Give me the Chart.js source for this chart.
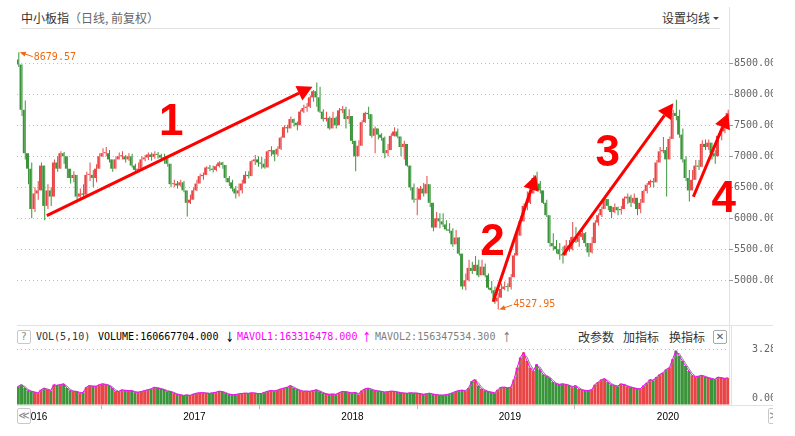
<!DOCTYPE html>
<html>
<head>
<meta charset="utf-8">
<script src="https://cdn.jsdelivr.net/npm/chart.js@4.4.1/dist/chart.umd.min.js"></script>
<style>
  html, body { margin: 0; padding: 0; background: #fff; }
  #wrap { position: relative; width: 773px; height: 436px; overflow: hidden; font-family: "Noto Sans CJK SC", sans-serif; }
  .abs { position: absolute; white-space: nowrap; }
  .mono { font-family: "DejaVu Sans Mono", monospace; font-size: 10px; line-height: 14px; top: 330px; }
  .arr { font-family: "DejaVu Sans", sans-serif; font-size: 14px; line-height: 14px; top: 330px; transform: scaleX(0.7); }
  .cn { font-size: 12px; line-height: 16px; color: #333; }
  .line { position: absolute; background: #e2e2e2; }
  .btn { position: absolute; box-sizing: border-box; border: 1px solid #c8c8c8; border-radius: 2px; background: #fff;
         text-align: center; color: #888; font-family: "DejaVu Sans", sans-serif; }
</style>
</head>
<body>
<div id="wrap">
  <div class="abs cn" style="left:21px; top:10px;">中小板指<span style="color:#666;">（日线, 前复权）</span></div>
  <div class="abs cn" style="left:662px; top:10px;">设置均线</div>
  <div class="abs" style="left:713px; top:17px; width:0; height:0; border-left:3px solid transparent; border-right:3px solid transparent; border-top:3px solid #444;"></div>
  <div class="line" style="left:21px; top:28px; width:699px; height:1px;"></div>
  <div class="line" style="left:729px; top:7px; width:1px; height:398px;"></div>
  <div class="line" style="left:731px; top:325px; width:1px; height:80px;"></div>
  <div class="line" style="left:17px; top:325px; width:756px; height:1px;"></div>
  <div class="line" style="left:17px; top:405px; width:756px; height:1px;"></div>

  <div class="btn" style="left:17px; top:330px; width:14px; height:14px; font-size:10px; line-height:12px;">?</div>
  <span class="abs mono" style="left:36px; color:#333;">VOL(5,10)</span>
  <span class="abs mono" style="left:98px; color:#000;">VOLUME:160667704.000</span>
  <span class="abs arr" style="left:224px; color:#000;">↓</span>
  <span class="abs mono" style="left:237px; color:#ff00ff;">MAVOL1:163316478.000</span>
  <span class="abs arr" style="left:361px; color:#ff00ff;">↑</span>
  <span class="abs mono" style="left:375px; color:#808080;">MAVOL2:156347534.300</span>
  <span class="abs arr" style="left:501px; color:#808080;">↑</span>
  <span class="abs cn" style="left:578px; top:329px;">改参数</span>
  <span class="abs cn" style="left:623px; top:329px;">加指标</span>
  <span class="abs cn" style="left:669px; top:329px;">换指标</span>
  <div class="btn" style="left:713px; top:330px; width:14px; height:14px; font-size:10px; line-height:12px; color:#555; border-color:#aaa;">✕</div>

  <canvas id="price" class="abs" style="left:0; top:30px;" width="773" height="292"></canvas>
  <canvas id="vol" class="abs" style="left:0; top:325px;" width="773" height="111"></canvas>

  <div class="btn" style="left:17px; top:408px; width:14px; height:16px; font-size:11px; line-height:14px;">≪</div>
  <div class="btn" style="left:768px; top:408px; width:14px; height:16px; font-size:11px; line-height:14px;">≫</div>
</div>

<script>
// each bar below stands for 5 trading days; x runs in trading days
const DAYS_PER_BAR = 5;
const DAY_SPAN = 1099;

const years = ['2016', '2017', '2018', '2019', '2020'];
const yearStartDay = [8, 252, 496, 739, 983];
const priceTicks = [5000, 5500, 6000, 6500, 7000, 7500, 8000, 8500];
const volTicks = [0, 3.28];

const firstOpen = 8560;
const close = [
  8480, 7750, 7050, 6800, 6150, 6400, 6450, 6850, 6200, 6450,
  6350, 6900, 6800, 7050, 7000, 6800, 6650, 6700, 6350, 6400,
  6380, 6700, 6700, 6650, 6800, 7000, 7050, 7050, 6950, 6800,
  6950, 7000, 7000, 6950, 7000, 6850, 6780, 6800, 6950, 6980,
  7030, 6990, 7040, 7020, 6980, 6960, 6880, 6550, 6560, 6530,
  6580, 6450, 6250, 6300, 6450, 6560, 6680, 6700, 6820, 6800,
  6780, 6840, 6900, 6860, 6650, 6580, 6480, 6400, 6450, 6560,
  6700, 6680, 6920, 6950, 6900, 6880, 6820, 7080, 7100, 7030,
  7120, 7300, 7470, 7450, 7600, 7540, 7500, 7720, 7780, 7800,
  7950, 8050, 7950, 7720, 7600, 7620, 7450, 7620, 7500, 7740,
  7760, 7600, 7650, 7250, 7000, 7170, 7550, 7700, 7680, 7330,
  7450, 7350, 7300, 7050, 7100, 7330, 7400, 7320, 7150, 7200,
  6850, 6500, 6300, 6300, 6480, 6400, 6550, 6250, 5850, 6000,
  5950, 5900, 5820, 5800, 5580, 5690, 5430, 4900, 5000, 5200,
  5150, 5250, 5080, 5220, 5080, 4880, 4840, 4660, 4720, 4860,
  4900, 4890, 5050, 5400, 5720, 5950, 6200, 6250, 6400, 6650,
  6560, 6450, 6250, 6050, 5600, 5550, 5500, 5420, 5400, 5560,
  5500, 5700, 5620, 5700, 5760, 5600, 5450, 5600, 5930, 6050,
  6150, 6310, 6200, 6100, 6180, 6130, 6150, 6320, 6350, 6250,
  6330, 6150, 6250, 6440, 6540, 6600, 6580, 6900, 7080, 7100,
  6950, 7280, 7700, 7650, 7350, 6950, 6650, 6450, 6620, 6850,
  6830, 7200, 7150, 7220, 7050, 7000, 7330, 7400, 7530, 7700
];
const high = [
  8679.57, 8420, 7900, 7050, 6900, 6500, 6600, 6900, 6800, 6550,
  6500, 6950, 7000, 7080, 7070, 7000, 6800, 6760, 6650, 6480,
  6550, 6750, 6900, 6780, 6870, 7050, 7130, 7150, 7100, 6950,
  7000, 7060, 7080, 7020, 7050, 7040, 6880, 6900, 7000, 7020,
  7060, 7060, 7080, 7070, 7040, 7040, 7000, 6880, 6620, 6600,
  6620, 6600, 6450, 6380, 6500, 6620, 6720, 6740, 6840, 6860,
  6850, 6870, 6920, 6910, 6860, 6680, 6620, 6520, 6560, 6620,
  6760, 6760, 6940, 7020, 7000, 6990, 6960, 7100, 7160, 7100,
  7160, 7320, 7500, 7510, 7640, 7610, 7560, 7750, 7830, 7860,
  7980, 8070, 8190, 8120, 7760, 7720, 7640, 7720, 7640, 7780,
  7810, 7800, 7760, 7520, 7250, 7260, 7580, 7720, 7800, 7580,
  7480, 7430, 7370, 7320, 7200, 7370, 7470, 7450, 7300, 7250,
  7130, 6780, 6560, 6500, 6520, 6570, 6680, 6460, 6250, 6100,
  6080, 6080, 5970, 5920, 5840, 5810, 5700, 5300, 5110, 5330,
  5300, 5390, 5330, 5330, 5270, 5110, 4990, 4900, 4800, 4950,
  4980, 4950, 5100, 5440, 5780, 6030, 6240, 6430, 6510, 6700,
  6750, 6600, 6450, 6300, 5850, 5760, 5650, 5600, 5540, 5650,
  5650, 5940, 5860, 5800, 5860, 5780, 5600, 5700, 5970, 6080,
  6190, 6350, 6300, 6200, 6240, 6190, 6200, 6350, 6400, 6380,
  6400, 6230, 6310, 6460, 6570, 6620, 6650, 6940, 7150, 7310,
  7150, 7320, 7750, 7910, 7750, 7450, 7000, 6780, 6780, 6940,
  6940, 7260, 7270, 7270, 7170, 7100, 7370, 7480, 7580, 7750
];
const low = [
  8440, 7650, 6950, 6550, 6000, 6100, 6300, 6450, 5970, 6150,
  6200, 6400, 6750, 6850, 6880, 6650, 6560, 6580, 6300, 6330,
  6330, 6380, 6600, 6500, 6580, 6800, 6990, 7000, 6900, 6750,
  6800, 6950, 6950, 6900, 6930, 6820, 6720, 6760, 6800, 6920,
  6940, 6930, 6960, 6960, 6920, 6880, 6830, 6500, 6500, 6480,
  6510, 6420, 6030, 6230, 6320, 6440, 6560, 6620, 6700, 6760,
  6740, 6760, 6820, 6800, 6580, 6520, 6430, 6320, 6350, 6400,
  6600, 6640, 6700, 6860, 6830, 6800, 6800, 6900, 7000, 6920,
  7000, 7100, 7300, 7380, 7450, 7480, 7420, 7580, 7700, 7720,
  7780, 7880, 7800, 7700, 7560, 7560, 7430, 7530, 7450, 7600,
  7700, 7450, 7520, 7200, 6760, 7000, 7170, 7540, 7600, 7300,
  7050, 7270, 7250, 6970, 7000, 7200, 7320, 7290, 7000, 6950,
  6830, 6450, 6250, 6050, 6300, 6350, 6400, 6180, 5790, 5860,
  5840, 5860, 5800, 5760, 5540, 5650, 5400, 4850, 4840, 4980,
  5100, 5160, 5050, 5150, 5050, 4850, 4790, 4620, 4527.95, 4830,
  4840, 4820, 4850, 5100, 5530, 5800, 6000, 6130, 6230, 6480,
  6500, 6400, 6230, 6020, 5540, 5480, 5430, 5330, 5270, 5430,
  5460, 5480, 5600, 5540, 5650, 5540, 5380, 5430, 5600, 5880,
  6020, 6180, 6130, 6000, 6080, 6050, 6060, 6150, 6230, 6180,
  6230, 6050, 6080, 6300, 6400, 6500, 6500, 6700, 6950, 7050,
  6350, 6980, 7300, 7580, 7300, 6900, 6600, 6270, 6510, 6720,
  6780, 6930, 7100, 7100, 6950, 6880, 7150, 7260, 7370, 7530
];
// average daily volume of each bar, in units of 1e8 shares
const volume = [
  1.1, 1.2, 1.0, 0.85, 0.8, 0.75, 0.7, 0.9, 1.0, 0.9,
  0.85, 1.2, 1.15, 1.2, 1.25, 1.0, 0.85, 0.8, 0.8, 0.7,
  0.75, 1.05, 1.15, 1.1, 1.1, 1.2, 1.25, 1.2, 1.15, 1.0,
  0.8, 0.8, 0.9, 0.85, 0.85, 0.85, 0.75, 0.75, 0.8, 0.85,
  0.9, 0.95, 1.05, 1.0, 0.95, 0.9, 0.8, 0.8, 0.7, 0.62,
  0.6, 0.55, 0.6, 0.55, 0.65, 0.7, 0.72, 0.72, 0.7, 0.68,
  0.72, 0.75, 0.82, 0.78, 0.7, 0.62, 0.6, 0.62, 0.65, 0.68,
  0.7, 0.68, 0.72, 0.7, 0.66, 0.68, 0.75, 0.82, 0.85, 0.82,
  0.88, 0.95, 1.0, 1.05, 1.15, 1.0, 0.92, 0.85, 0.8, 0.82,
  0.8, 0.85, 0.9, 0.8, 0.7, 0.65, 0.62, 0.65, 0.62, 0.72,
  0.8, 0.78, 0.74, 0.7, 0.75, 0.62, 0.85, 0.95, 1.0, 0.9,
  0.85, 0.82, 0.8, 0.75, 0.78, 0.82, 0.8, 0.76, 0.72, 0.7,
  0.68, 0.72, 0.7, 0.7, 0.66, 0.62, 0.66, 0.7, 0.62, 0.6,
  0.58, 0.58, 0.6, 0.65, 0.72, 0.8, 0.85, 0.88, 0.82, 1.0,
  1.4, 1.5, 1.15, 0.95, 0.85, 0.78, 0.75, 0.7, 0.9, 1.05,
  1.05, 1.0, 1.05, 1.5, 2.2, 2.8, 3.1, 2.6, 2.2, 2.0,
  2.4, 2.1, 1.8, 1.7, 1.6, 1.35, 1.25, 1.2, 1.25, 1.2,
  1.15, 1.05, 1.15, 0.95, 0.88, 0.85, 0.85, 0.9, 1.2, 1.35,
  1.5, 1.55, 1.35, 1.2, 1.15, 1.1, 1.25, 1.2, 1.1, 1.05,
  1.0, 0.95, 0.95, 1.15, 1.3, 1.5, 1.45, 1.65, 1.8, 1.9,
  2.1, 2.2, 2.7, 3.2, 2.9, 2.6, 2.3, 2.0, 1.75, 1.65,
  1.7, 1.75, 1.65, 1.6, 1.55, 1.5, 1.65, 1.6, 1.55, 1.6
];

// hand-drawn trend arrows: [startDay, startPrice, endDay, endPrice]
const arrows = [
  [46, 6042, 456, 8123],
  [735, 4655, 801, 6698],
  [843, 5408, 1013, 7855],
  [1044, 6348, 1098, 7693]
];
const arrowNames = ['1', '2', '3', '4'];
const arrowNamePos = [[238, 7343], [734, 5408], [912, 6843], [1091, 6101]];

const PRICE_MIN = 4327, PRICE_MAX = 9037;
const VOL_MAX = 4.711;
const RED = '#e84646', GREEN = '#3a943a', ORANGE = '#ee6a12';

// build bar data
const bodies = [], wicks = [], colors = [], volBars = [], ma1 = [], ma2 = [];
close.forEach(function(c, k) {
  const o = k === 0 ? firstOpen : close[k - 1];
  const t = k * DAYS_PER_BAR + 2;
  bodies.push({x: t, y: [o, c]});
  wicks.push({x: t, y: [Math.min(low[k], o, c), Math.max(high[k], o, c)]});
  colors.push(c >= o ? RED : GREEN);
  volBars.push({x: t, y: volume[k]});
  ma1.push({x: t, y: volume[k]});
  ma2.push({x: t, y: k === 0 ? volume[0] : (volume[k - 1] + volume[k]) / 2});
});

function fixedWidth(w) {
  return function(s) { s.width = w; s.paddingTop = 0; s.paddingBottom = 0; };
}

const marksPlugin = {
  id: 'marks',
  afterDatasetsDraw(chart) {
    const ctx = chart.ctx;
    const x = chart.scales.x, y = chart.scales.y;
    ctx.save();
    ctx.strokeStyle = '#ff0000';
    ctx.fillStyle = '#ff0000';
    ctx.lineWidth = 3;
    arrows.forEach(function(a) {
      const x0 = x.getPixelForValue(a[0]), y0 = y.getPixelForValue(a[1]);
      const x1 = x.getPixelForValue(a[2]), y1 = y.getPixelForValue(a[3]);
      const ang = Math.atan2(y1 - y0, x1 - x0);
      const hl = 15, hw = 8;
      const bx = x1 - hl * Math.cos(ang), by = y1 - hl * Math.sin(ang);
      ctx.beginPath(); ctx.moveTo(x0, y0); ctx.lineTo(bx, by); ctx.stroke();
      ctx.beginPath();
      ctx.moveTo(x1, y1);
      ctx.lineTo(bx + hw * Math.sin(ang), by - hw * Math.cos(ang));
      ctx.lineTo(bx - hw * Math.sin(ang), by + hw * Math.cos(ang));
      ctx.closePath(); ctx.fill();
    });
    ctx.font = 'bold 44px "Liberation Sans", Arial, sans-serif';
    ctx.textAlign = 'center';
    ctx.textBaseline = 'alphabetic';
    arrowNames.forEach(function(n, i) {
      ctx.fillText(n, x.getPixelForValue(arrowNamePos[i][0]), y.getPixelForValue(arrowNamePos[i][1]));
    });

    // max / min price markers
    let hi = 0, lo = 0;
    high.forEach(function(v, k) { if (v > high[hi]) hi = k; });
    low.forEach(function(v, k) { if (v < low[lo]) lo = k; });
    function marker(k, val, dir) {
      const px = x.getPixelForValue(k * DAYS_PER_BAR + 2) + 1.5, py = y.getPixelForValue(val);
      const ex = px + 13, ey = py + dir * 4.5;
      const ang = Math.atan2(py - ey, px - ex);
      ctx.strokeStyle = ORANGE; ctx.fillStyle = ORANGE; ctx.lineWidth = 1;
      ctx.beginPath(); ctx.moveTo(px + 4, py + dir * 1.4); ctx.lineTo(ex, ey); ctx.stroke();
      ctx.beginPath();
      ctx.moveTo(px, py);
      ctx.lineTo(px - 6 * Math.cos(ang) + 2.5 * Math.sin(ang), py - 6 * Math.sin(ang) - 2.5 * Math.cos(ang));
      ctx.lineTo(px - 6 * Math.cos(ang) - 2.5 * Math.sin(ang), py - 6 * Math.sin(ang) + 2.5 * Math.cos(ang));
      ctx.closePath(); ctx.fill();
      ctx.font = '10px "DejaVu Sans Mono", monospace';
      ctx.textAlign = 'left'; ctx.textBaseline = 'middle';
      ctx.fillText(val.toFixed(2), ex + 1, ey + dir * 0.5);
    }
    marker(hi, high[hi], 1);
    marker(lo, low[lo], -1);
    ctx.restore();
  }
};

new Chart(document.getElementById('price'), {
  type: 'bar',
  data: {
    datasets: [
      { data: bodies, backgroundColor: colors, barThickness: 2, minBarLength: 1, xAxisID: 'x' },
      { data: wicks, backgroundColor: colors, barThickness: 1, xAxisID: 'xw' }
    ]
  },
  options: {
    responsive: false,
    animation: false,
    devicePixelRatio: 1,
    layout: { padding: { left: 17, right: 0, top: 0, bottom: 0 } },
    plugins: { legend: { display: false }, tooltip: { enabled: false } },
    datasets: { bar: { borderWidth: 0, inflateAmount: 0 } },
    scales: {
      x: { type: 'linear', min: 0, max: DAY_SPAN, display: false, offset: false },
      xw: { type: 'linear', min: 0, max: DAY_SPAN, display: false, offset: false },
      y: {
        position: 'right',
        min: PRICE_MIN,
        max: PRICE_MAX,
        afterBuildTicks: function(s) { s.ticks = priceTicks.map(function(v) { return {value: v}; }); },
        afterFit: fixedWidth(44),
        grid: { color: '#bdbdbd', tickColor: '#999', tickLength: 4 },
        border: { display: false, dash: [1, 3] },
        ticks: {
          padding: 1,
          color: '#666',
          font: { family: 'DejaVu Sans Mono', size: 10 },
          callback: function(v) { return v.toFixed(2); }
        }
      }
    }
  },
  plugins: [marksPlugin]
});

const volLabels = {
  id: 'volLabels',
  afterDraw(chart) {
    const ctx = chart.ctx, y = chart.scales.y;
    ctx.save();
    ctx.fillStyle = '#666';
    ctx.font = '10px "DejaVu Sans Mono", monospace';
    ctx.textAlign = 'left';
    ctx.textBaseline = 'middle';
    ctx.fillText(volTicks[1].toFixed(2), 752, y.getPixelForValue(volTicks[1]));
    ctx.textBaseline = 'alphabetic';
    ctx.fillText(volTicks[0].toFixed(2), 752, y.getPixelForValue(volTicks[0]) - 4);
    ctx.restore();
  }
};

new Chart(document.getElementById('vol'), {
  type: 'bar',
  data: {
    datasets: [
      { type: 'line', data: ma1, borderColor: '#ff00ff', borderWidth: 1, pointRadius: 0, tension: 0 },
      { type: 'line', data: ma2, borderColor: '#888888', borderWidth: 1, pointRadius: 0, tension: 0 },
      { data: volBars, backgroundColor: colors, barThickness: 3, borderWidth: 0, inflateAmount: 0 }
    ]
  },
  options: {
    responsive: false,
    animation: false,
    devicePixelRatio: 1,
    layout: { padding: { left: 17, right: 0, top: 0, bottom: 0 } },
    plugins: { legend: { display: false }, tooltip: { enabled: false } },
    scales: {
      x: {
        type: 'linear', min: 0, max: DAY_SPAN, offset: false,
        afterBuildTicks: function(s) { s.ticks = yearStartDay.map(function(v) { return {value: v}; }); },
        afterFit: function(s) { s.height = 31; s.paddingLeft = 0; s.paddingRight = 0; },
        grid: { drawOnChartArea: false, tickLength: 4, tickColor: '#bbb' },
        border: { display: false },
        ticks: {
          align: 'start', labelOffset: 3, padding: 2, maxRotation: 0, autoSkip: false,
          color: '#000', font: { family: 'Liberation Sans', size: 10 },
          callback: function(v) { return years[yearStartDay.indexOf(v)]; }
        }
      },
      y: {
        position: 'right', min: 0, max: VOL_MAX,
        afterBuildTicks: function(s) { s.ticks = volTicks.map(function(v) { return {value: v}; }); },
        afterFit: fixedWidth(44),
        grid: { drawTicks: false, color: function(c) { return c.tick && c.tick.value > 0 ? '#bdbdbd' : 'rgba(0,0,0,0)'; } },
        border: { display: false, dash: [1, 3] },
        ticks: { display: false }
      }
    }
  },
  plugins: [volLabels]
});
</script>
</body>
</html>
